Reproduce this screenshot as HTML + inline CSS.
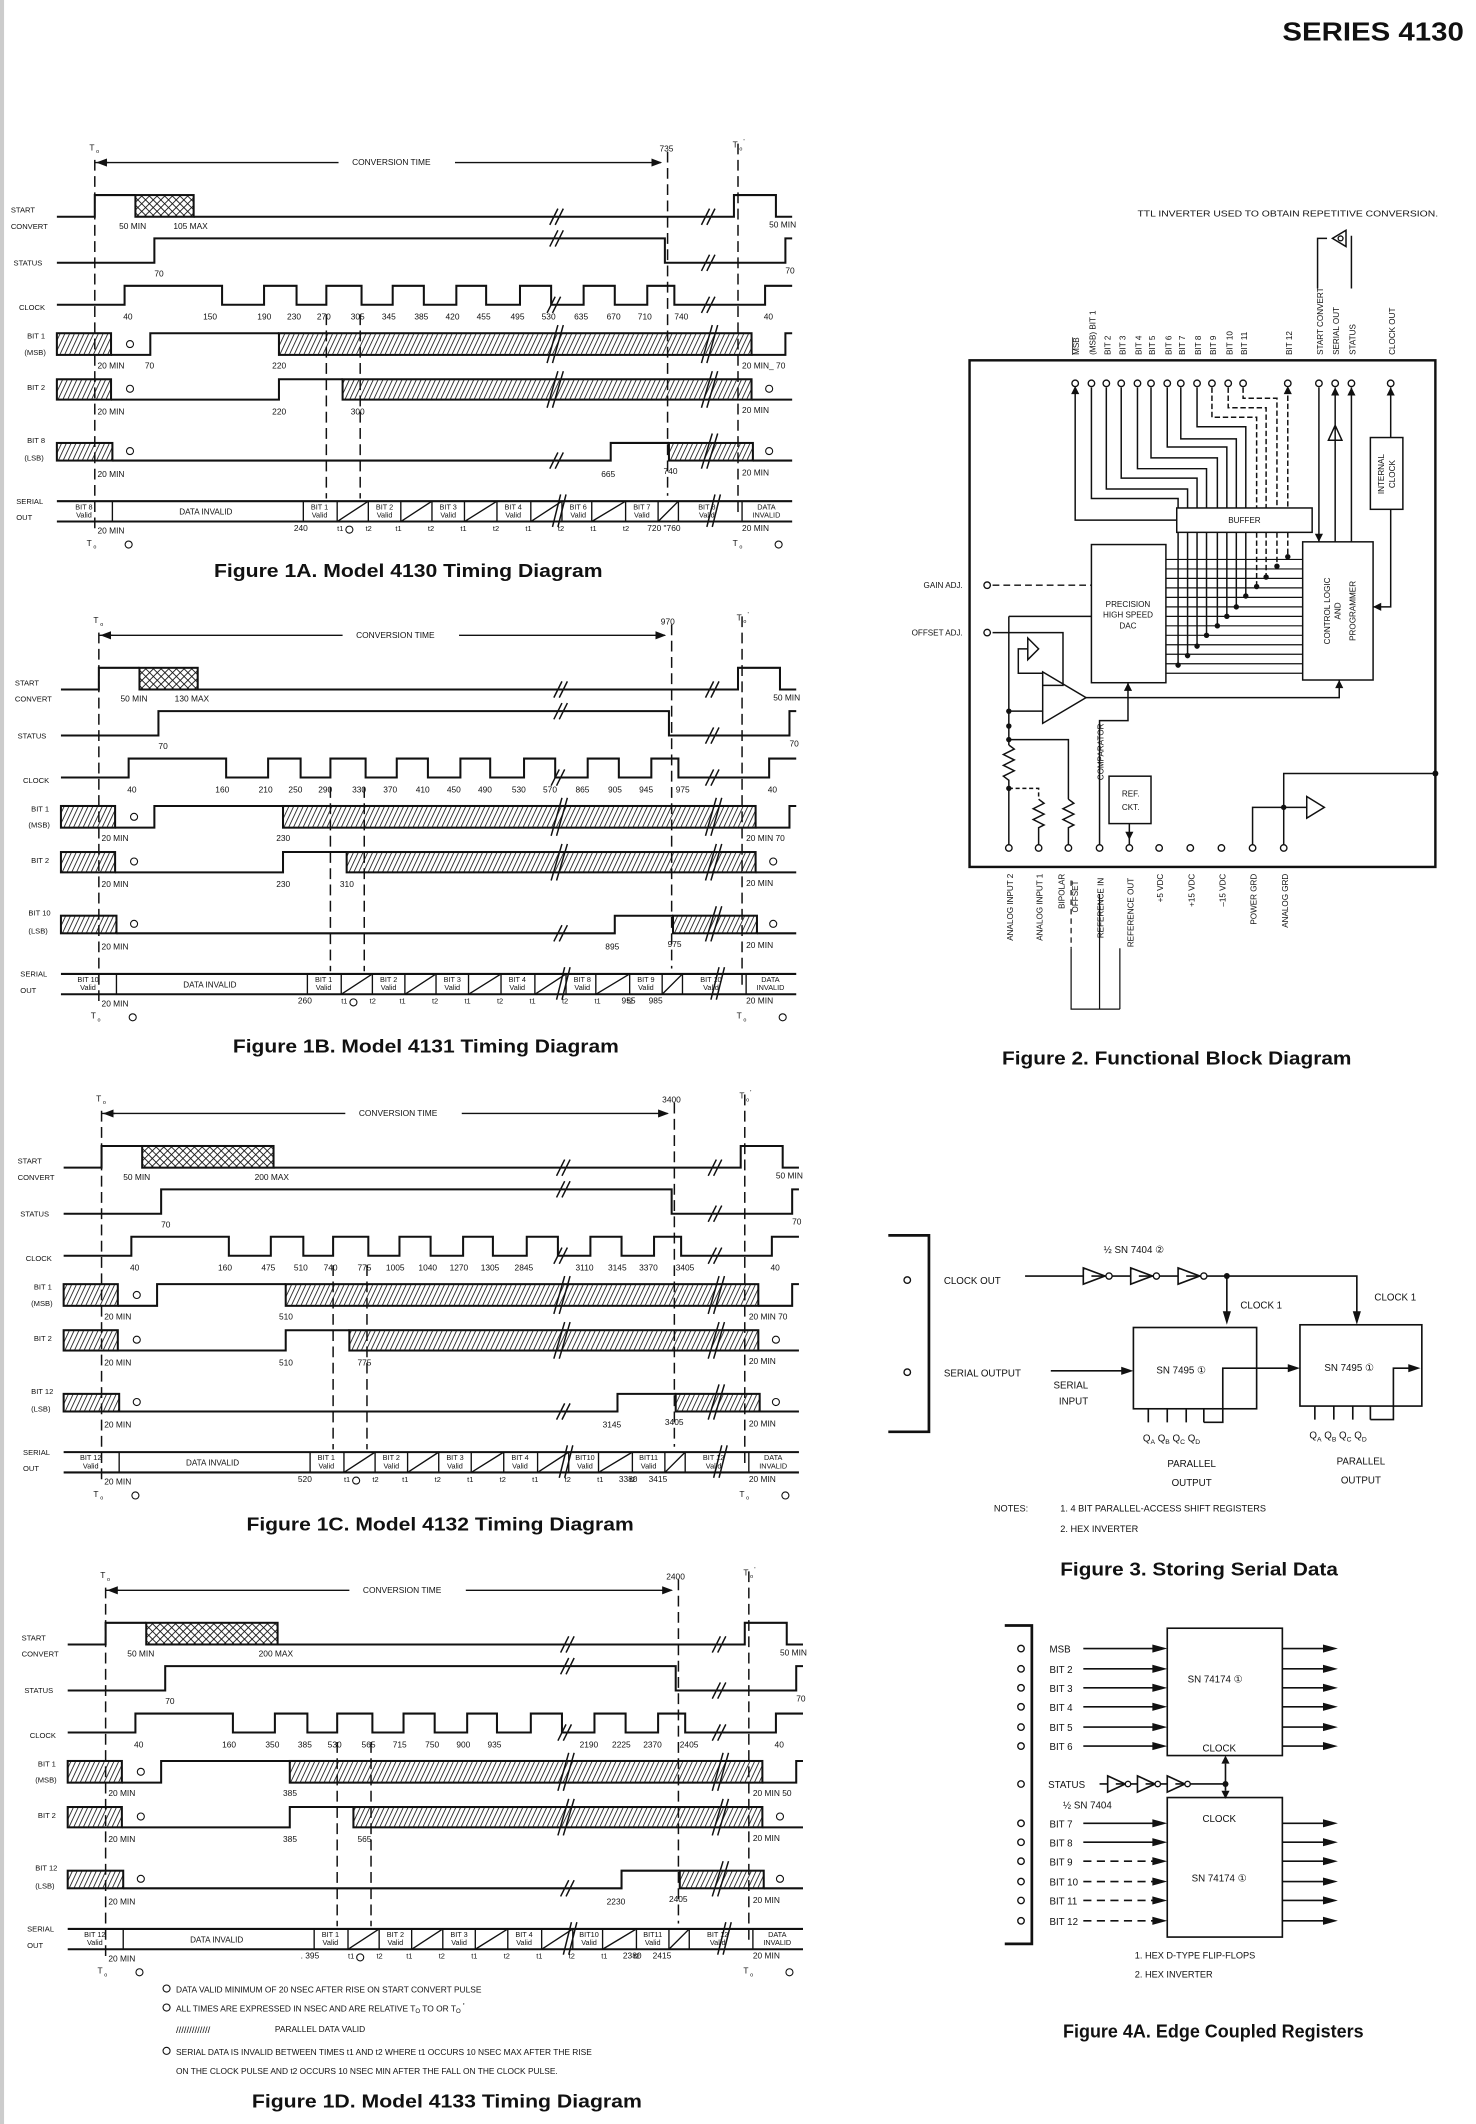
<!DOCTYPE html>
<html><head><meta charset="utf-8"><style>
html,body{margin:0;padding:0;background:#fff;}
svg{display:block;}
text{font-family:"Liberation Sans",sans-serif;fill:#111;}
</style></head><body>
<svg width="1476" height="2124" viewBox="0 0 1090 1568" preserveAspectRatio="none" xmlns="http://www.w3.org/2000/svg">
<defs>
<pattern id="h" width="3.2" height="3.2" patternUnits="userSpaceOnUse" patternTransform="rotate(25)"><rect width="3.2" height="3.2" fill="#fff"/><line x1="0" y1="0" x2="0" y2="3.2" stroke="#111" stroke-width="1.2"/></pattern>
<pattern id="x" width="4" height="4" patternUnits="userSpaceOnUse" patternTransform="rotate(45)"><rect width="4" height="4" fill="#fff"/><line x1="0" y1="0" x2="0" y2="4" stroke="#111" stroke-width="1.3"/><line x1="0" y1="0" x2="4" y2="0" stroke="#111" stroke-width="1.3"/></pattern>
<marker id="ar" markerWidth="8" markerHeight="6" refX="7" refY="3" orient="auto" markerUnits="userSpaceOnUse"><path d="M0,0 L8,3 L0,6 z" fill="#111"/></marker>
<g id="w" fill="none" stroke="#111" stroke-width="1.5">
 <path d="M42 194 H114 V176 H491 V194 H580 V176 H585"/>
 <path d="M42 225 H92 V211 H164 V225 H195 V211 H219 V225 H241 V211 H267 V225 H290 V211 H313 V225 H337 V211 H359 V225 H384 V211 H407 V225 H431 V211 H454 V225 H478 V211 H498 V225 H565 V211 H585"/>
 <rect x="42" y="246" width="40" height="16" fill="url(#h)"/>
 <path d="M82 262 H111 V246 H206"/>
 <rect x="206" y="246" width="349" height="16" fill="url(#h)"/>
 <path d="M555 262 H580 V246 H585"/>
 <rect x="42" y="280" width="40" height="15" fill="url(#h)"/>
 <path d="M82 295 H206 V280 H253"/>
 <rect x="253" y="280" width="302" height="15" fill="url(#h)"/>
 <path d="M555 295 H585"/>
 <rect x="42" y="327" width="41" height="13" fill="url(#h)"/>
 <path d="M83 340 H451 V327 H494"/>
 <rect x="494" y="327" width="62" height="13" fill="url(#h)"/>
 <path d="M556 340 H585"/>
 <path d="M42 370 H585 M42 385 H585"/>
 <path d="M83 370 V385 M224 370 V385 M249 370 V385 M272 370 V385 M296 370 V385 M319 370 V385 M343 370 V385 M367 370 V385 M392 370 V385 M415 370 V385 M437 370 V385 M462 370 V385 M486 370 V385 M501 370 V385 M548 370 V385" stroke-width="1"/>
 <path d="M249 385 L272 370 M296 385 L319 370 M343 385 L367 370 M392 385 L415 370 M437 385 L462 370 M486 385 L501 370" stroke-width="1"/>
 <g stroke-dasharray="8,4" stroke-width="1.1">
  <path d="M70 118 V392"/><path d="M241 232 V368"/><path d="M266 232 V368"/><path d="M493 112 V366"/><path d="M545 106 V382"/>
 </g>
 <g stroke-width="1.1">
  <path d="M406 166 L412 154 M410 166 L416 154"/><path d="M518 166 L524 154 M522 166 L528 154"/>
  <path d="M406 182 L412 170 M410 182 L416 170"/><path d="M518 200 L524 188 M522 200 L528 188"/>
  <path d="M404 231 L410 219 M408 231 L414 219"/><path d="M518 231 L524 219 M522 231 L528 219"/>
  <path d="M404 268 L412 240 M408 268 L416 240"/><path d="M518 268 L526 240 M522 268 L530 240"/>
  <path d="M404 301 L412 274 M408 301 L416 274"/><path d="M518 301 L526 274 M522 301 L530 274"/>
  <path d="M406 346 L412 334 M410 346 L416 334"/><path d="M518 346 L526 320 M522 346 L530 320"/>
  <path d="M408 389 L414 365 M412 389 L418 365"/><path d="M522 389 L528 365 M526 389 L532 365"/>
 </g>
 <path d="M70 120 H488" stroke-width="1" marker-end="url(#ar)"/>
 <path d="M80 120 H72" stroke-width="1" marker-end="url(#ar)"/>
</g>
<g id="rl" font-size="5.6">
 <text x="8" y="157">START</text><text x="8" y="169">CONVERT</text>
 <text x="10" y="196">STATUS</text><text x="14" y="229">CLOCK</text>
 <text x="20" y="250">BIT 1</text><text x="18" y="262">(MSB)</text>
 <text x="20" y="288">BIT 2</text>
 <text x="12" y="384" >OUT</text><text x="12" y="372">SERIAL</text>
</g>
<g id="sl" font-size="6.2">
 <text x="66" y="111">T</text><text x="71" y="113" font-size="4">o</text>
 <text x="541" y="109">T</text><text x="546" y="111" font-size="4">o</text><text x="549" y="106" font-size="5">'</text>
 <rect x="250" y="115" width="86" height="9" fill="#fff"/>
 <text x="260" y="122">CONVERSION TIME</text>
 <text x="114" y="204">70</text><text x="580" y="202">70</text>
 <text x="91" y="236">40</text><text x="564" y="236">40</text>
 <text x="72" y="272">20 MIN</text><text x="72" y="306">20 MIN</text><text x="72" y="352">20 MIN</text>
 <text x="548" y="305">20 MIN</text><text x="548" y="351">20 MIN</text>
 <text x="72" y="394">20 MIN</text><text x="548" y="392">20 MIN</text>
 <text x="64" y="403">T</text><text x="69" y="405" font-size="4">o</text>
 <text x="541" y="403">T</text><text x="546" y="405" font-size="4">o</text>
 <text x="568" y="168">50 MIN</text>
 <circle cx="96" cy="254" r="2.6" fill="none" stroke="#111" stroke-width=".8"/>
 <circle cx="96" cy="287" r="2.6" fill="none" stroke="#111" stroke-width=".8"/>
 <circle cx="96" cy="333" r="2.6" fill="none" stroke="#111" stroke-width=".8"/>
 <circle cx="568" cy="287" r="2.6" fill="none" stroke="#111" stroke-width=".8"/>
 <circle cx="568" cy="333" r="2.6" fill="none" stroke="#111" stroke-width=".8"/>
 <circle cx="95" cy="402" r="2.6" fill="none" stroke="#111" stroke-width=".8"/>
 <circle cx="575" cy="402" r="2.6" fill="none" stroke="#111" stroke-width=".8"/>
 <circle cx="258" cy="391" r="2.6" fill="none" stroke="#111" stroke-width=".8"/>
 <text x="249" y="392" font-size="5.5">t1</text><text x="270" y="392" font-size="5.5">t2</text>
 <text x="292" y="392" font-size="5.5">t1</text><text x="316" y="392" font-size="5.5">t2</text>
 <text x="340" y="392" font-size="5.5">t1</text><text x="364" y="392" font-size="5.5">t2</text>
 <text x="388" y="392" font-size="5.5">t1</text><text x="412" y="392" font-size="5.5">t2</text>
 <text x="436" y="392" font-size="5.5">t1</text><text x="460" y="392" font-size="5.5">t2</text>
 <g font-size="5.4" text-anchor="middle">
 <text x="152" y="380" font-size="6">DATA INVALID</text>
 <text x="236" y="376">BIT 1</text><text x="236" y="382">Valid</text>
 <text x="284" y="376">BIT 2</text><text x="284" y="382">Valid</text>
 <text x="331" y="376">BIT 3</text><text x="331" y="382">Valid</text>
 <text x="379" y="376">BIT 4</text><text x="379" y="382">Valid</text>
 <text x="566" y="376">DATA</text><text x="566" y="382">INVALID</text>
 </g>
</g>
</defs>

<text x="947" y="30" font-size="19" font-weight="bold" textLength="134" lengthAdjust="spacingAndGlyphs">SERIES 4130</text>
<path d="M0 0 V1568" stroke="#ccc" stroke-width="6"/>

<!-- FIG 1A -->
<g>
 <use href="#w"/><use href="#rl"/><use href="#sl"/>
 <path d="M42 160 H70 V144 H100 M143 160 H542 V144 H573 V160 H585" fill="none" stroke="#111" stroke-width="1.5"/>
 <rect x="100" y="144" width="43" height="16" fill="url(#x)" stroke="#111" stroke-width="1.5"/>
 <g font-size="5.6"><text x="20" y="327">BIT 8</text><text x="18" y="340">(LSB)</text></g>
 <g font-size="6.2">
 <text x="88" y="169">50 MIN</text><text x="128" y="169">105 MAX</text>
 <text x="487" y="112">735</text>
 <text x="150" y="236">150</text><text x="190" y="236">190</text><text x="212" y="236">230</text><text x="234" y="236">270</text><text x="259" y="236">305</text><text x="282" y="236">345</text><text x="306" y="236">385</text><text x="329" y="236">420</text><text x="352" y="236">455</text><text x="377" y="236">495</text><text x="400" y="236">530</text><text x="424" y="236">635</text><text x="448" y="236">670</text><text x="471" y="236">710</text><text x="498" y="236">740</text>
 <text x="107" y="272">70</text><text x="201" y="272">220</text><text x="548" y="272">20 MIN_ 70</text>
 <text x="201" y="306">220</text><text x="259" y="306">300</text>
 <text x="444" y="352">665</text><text x="490" y="350">740</text>
 <text x="217" y="392">240</text><text x="478" y="392">720 "760</text>
 </g>
 <g font-size="5.4" text-anchor="middle">
  <text x="62" y="376">BIT 8</text><text x="62" y="382">Valid</text>
  <text x="427" y="376">BIT 6</text><text x="427" y="382">Valid</text>
  <text x="474" y="376">BIT 7</text><text x="474" y="382">Valid</text>
  <text x="522" y="376">BIT 8</text><text x="522" y="382">Valid</text>
 </g>
 <text x="158" y="426" font-size="13.5" font-weight="bold" textLength="287" lengthAdjust="spacingAndGlyphs">Figure 1A. Model 4130 Timing Diagram</text>
</g>

<!-- FIG 1B -->
<g transform="translate(3,349)">
 <use href="#w"/><use href="#rl"/><use href="#sl"/>
 <path d="M42 160 H70 V144 H100 M143 160 H542 V144 H573 V160 H585" fill="none" stroke="#111" stroke-width="1.5"/>
 <rect x="100" y="144" width="43" height="16" fill="url(#x)" stroke="#111" stroke-width="1.5"/>
 <g font-size="5.6"><text x="18" y="327">BIT 10</text><text x="18" y="340">(LSB)</text></g>
 <g font-size="6.2">
 <text x="86" y="169">50 MIN</text><text x="126" y="169">130 MAX</text>
 <text x="485" y="112">970</text>
 <text x="156" y="236">160</text><text x="188" y="236">210</text><text x="210" y="236">250</text><text x="232" y="236">290</text><text x="257" y="236">330</text><text x="280" y="236">370</text><text x="304" y="236">410</text><text x="327" y="236">450</text><text x="350" y="236">490</text><text x="375" y="236">530</text><text x="398" y="236">570</text><text x="422" y="236">865</text><text x="446" y="236">905</text><text x="469" y="236">945</text><text x="496" y="236">975</text>
 <text x="201" y="272">230</text><text x="548" y="272">20 MIN  70</text>
 <text x="201" y="306">230</text><text x="248" y="306">310</text>
 <text x="444" y="352">895</text><text x="490" y="350">975</text>
 <text x="217" y="392">260</text><text x="456" y="392">955</text><text x="476" y="392">985</text>
 </g>
 <g font-size="5.4" text-anchor="middle">
  <text x="62" y="376">BIT 10</text><text x="62" y="382">Valid</text>
  <text x="427" y="376">BIT 8</text><text x="427" y="382">Valid</text>
  <text x="474" y="376">BIT 9</text><text x="474" y="382">Valid</text>
  <text x="522" y="376">BIT 10</text><text x="522" y="382">Valid</text>
 </g>
 <text x="169" y="428" font-size="13.5" font-weight="bold" textLength="285" lengthAdjust="spacingAndGlyphs">Figure 1B. Model 4131 Timing Diagram</text>
</g>

<!-- FIG 1C -->
<g transform="translate(5,702)">
 <use href="#w"/><use href="#rl"/><use href="#sl"/>
 <path d="M42 160 H70 V144 H100 M197 160 H542 V144 H573 V160 H585" fill="none" stroke="#111" stroke-width="1.5"/>
 <rect x="100" y="144" width="97" height="16" fill="url(#x)" stroke="#111" stroke-width="1.5"/>
 <g font-size="5.6"><text x="18" y="327">BIT 12</text><text x="18" y="340">(LSB)</text></g>
 <g font-size="6.2">
 <text x="86" y="169">50 MIN</text><text x="183" y="169">200 MAX</text>
 <text x="484" y="112">3400</text>
 <text x="156" y="236">160</text><text x="188" y="236">475</text><text x="212" y="236">510</text><text x="234" y="236">740</text><text x="259" y="236">775</text><text x="280" y="236">1005</text><text x="304" y="236">1040</text><text x="327" y="236">1270</text><text x="350" y="236">1305</text><text x="375" y="236">2845</text><text x="420" y="236">3110</text><text x="444" y="236">3145</text><text x="467" y="236">3370</text><text x="494" y="236">3405</text>
 <text x="201" y="272">510</text><text x="548" y="272">20 MIN  70</text>
 <text x="201" y="306">510</text><text x="259" y="306">775</text>
 <text x="440" y="352">3145</text><text x="486" y="350">3405</text>
 <text x="215" y="392">520</text><text x="452" y="392">3380</text><text x="474" y="392">3415</text>
 </g>
 <g font-size="5.4" text-anchor="middle">
  <text x="62" y="376">BIT 12</text><text x="62" y="382">Valid</text>
  <text x="427" y="376">BIT10</text><text x="427" y="382">Valid</text>
  <text x="474" y="376">BIT11</text><text x="474" y="382">Valid</text>
  <text x="522" y="376">BIT 12</text><text x="522" y="382">Valid</text>
 </g>
 <text x="177" y="428" font-size="13.5" font-weight="bold" textLength="286" lengthAdjust="spacingAndGlyphs">Figure 1C. Model 4132 Timing Diagram</text>
</g>

<!-- FIG 1D -->
<g transform="translate(8,1054)">
 <use href="#w"/><use href="#rl"/><use href="#sl"/>
 <path d="M42 160 H70 V144 H100 M197 160 H542 V144 H573 V160 H585" fill="none" stroke="#111" stroke-width="1.5"/>
 <rect x="100" y="144" width="97" height="16" fill="url(#x)" stroke="#111" stroke-width="1.5"/>
 <g font-size="5.6"><text x="18" y="327">BIT 12</text><text x="18" y="340">(LSB)</text></g>
 <g font-size="6.2">
 <text x="86" y="169">50 MIN</text><text x="183" y="169">200 MAX</text>
 <text x="484" y="112">2400</text>
 <text x="156" y="236">160</text><text x="188" y="236">350</text><text x="212" y="236">385</text><text x="234" y="236">530</text><text x="259" y="236">565</text><text x="282" y="236">715</text><text x="306" y="236">750</text><text x="329" y="236">900</text><text x="352" y="236">935</text><text x="420" y="236">2190</text><text x="444" y="236">2225</text><text x="467" y="236">2370</text><text x="494" y="236">2405</text>
 <text x="201" y="272">385</text><text x="548" y="272">20 MIN  50</text>
 <text x="201" y="306">385</text><text x="256" y="306">565</text>
 <text x="440" y="352">2230</text><text x="486" y="350">2405</text>
 <text x="214" y="392">. 395</text><text x="452" y="392">2380</text><text x="474" y="392">2415</text>
 </g>
 <g font-size="5.4" text-anchor="middle">
  <text x="62" y="376">BIT 12</text><text x="62" y="382">Valid</text>
  <text x="427" y="376">BIT10</text><text x="427" y="382">Valid</text>
  <text x="474" y="376">BIT11</text><text x="474" y="382">Valid</text>
  <text x="522" y="376">BIT 12</text><text x="522" y="382">Valid</text>
 </g>
</g>
<g font-size="6.2">
 <circle cx="123" cy="1468" r="2.6" fill="none" stroke="#111" stroke-width=".8"/><text x="130" y="1471">DATA VALID MINIMUM OF 20 NSEC AFTER RISE ON START CONVERT PULSE</text>
 <circle cx="123" cy="1482" r="2.6" fill="none" stroke="#111" stroke-width=".8"/><text x="130" y="1485">ALL TIMES ARE EXPRESSED IN   NSEC   AND ARE RELATIVE T<tspan font-size="4.5" dy="1">O</tspan><tspan dy="-1"> TO OR T</tspan><tspan font-size="4.5" dy="1">O</tspan><tspan dy="-3"> '</tspan></text>
 <text x="130" y="1501" font-size="7">/////////////</text><text x="203" y="1500">PARALLEL DATA VALID</text>
 <circle cx="123" cy="1514" r="2.6" fill="none" stroke="#111" stroke-width=".8"/><text x="130" y="1517">SERIAL DATA IS INVALID BETWEEN TIMES t1 AND t2 WHERE t1 OCCURS 10 NSEC MAX AFTER THE RISE</text>
 <text x="130" y="1531">ON THE CLOCK PULSE AND t2  OCCURS 10 NSEC MIN AFTER THE FALL ON THE CLOCK PULSE.</text>
</g>
<text x="186" y="1556" font-size="13.5" font-weight="bold" textLength="288" lengthAdjust="spacingAndGlyphs">Figure 1D. Model 4133 Timing Diagram</text>

<!-- FIG 2 -->
<g fill="none" stroke="#111" stroke-width="1.1">
 <rect x="716" y="266" width="344" height="374" stroke-width="1.8"/>
 <rect x="869" y="375" width="100" height="18"/>
 <rect x="806" y="402" width="55" height="102"/>
 <rect x="962" y="400" width="52" height="102"/>
 <rect x="1012" y="323" width="24" height="53"/>
 <rect x="819" y="573" width="31" height="35"/>
 <path d="M770 496 L802 515 L770 534 Z"/>
 <path d="M759 471 L767 479 L759 487 Z M759 479 H752 V497 H770"/>
 <path d="M794 286 V384 H869"/>
 <path d="M806 286 V368 H870 V375 M817 286 V361 H877 V375 M828 286 V353 H884 V375 M840 286 V346 H891 V375 M850 286 V338 H899 V375 M862 286 V330 H906 V375 M872 286 V324 H913 V375 M884 286 V315 H920 V375"/>
 <path d="M895 286 V308 H928 V375 M907 286 V301 H935 V375 M918 286 V294 H943 V375 M951 286 V375" stroke-dasharray="4,2"/>
 <path d="M870 393 V491 M877 393 V484 M884 393 V477 M891 393 V469 M899 393 V462 M906 393 V455 M913 393 V448 M920 393 V440"/>
 <path d="M928 393 V433 M935 393 V426 M943 393 V418 M951 393 V411" stroke-dasharray="4,2"/>
 <path d="M861 413 H962 M861 420 H962 M861 427 H962 M861 434 H962 M861 441 H962 M861 448 H962 M861 455 H962 M861 462 H962 M861 469 H962 M861 476 H962 M861 483 H962 M861 490 H962 M861 497 H962" stroke-width=".9"/>
 <path d="M974 286 V400 M986 286 V325 M981 325 L986 314 L991 325 Z M986 325 V400 M998 286 V400 M1027 286 V323 M1027 376 V448 H1014"/>
 <path d="M973 213 V176 H980 M998 213 V174"/>
 <path d="M994 170 L984 176 L994 182 Z"/>
 <path d="M745 455 H806 M745 455 V550 M745 550 l4 3 -8 4 8 4 -8 4 8 4 -8 4 4 3 V626 M745 525 H770 M745 546 H789 V590 M789 590 l4 3 -8 4 8 4 -8 4 8 4 -4 2 V626"/>
 <path d="M745 582 H767 V590" stroke-dasharray="3,2"/>
 <path d="M767 590 l4 3 -8 4 8 4 -8 4 8 4 -4 2 V626"/>
 <path d="M733 432 H806" stroke-dasharray="5,3"/>
 <path d="M733 467 H785 V506 H770"/>
 <path d="M802 515 H989 V502"/>
 <path d="M812 626 V532 H833 V504 M834 608 V626"/>
 <path d="M948 626 V571 H1060 M925 626 V596 H965 M965 588 L978 596 L965 604 Z"/>
 <path d="M791 700 V745 H827 M812 660 V745 M827 700 V745" stroke-width=".9"/>
 <path d="M791 650 V700" stroke-dasharray="4,3" stroke-width=".9"/>
</g>
<g fill="#fff" stroke="#111" stroke-width="1">
 <circle cx="794" cy="283" r="2.4"/><circle cx="806" cy="283" r="2.4"/><circle cx="817" cy="283" r="2.4"/><circle cx="828" cy="283" r="2.4"/><circle cx="840" cy="283" r="2.4"/><circle cx="850" cy="283" r="2.4"/><circle cx="862" cy="283" r="2.4"/><circle cx="872" cy="283" r="2.4"/><circle cx="884" cy="283" r="2.4"/><circle cx="895" cy="283" r="2.4"/><circle cx="907" cy="283" r="2.4"/><circle cx="918" cy="283" r="2.4"/><circle cx="951" cy="283" r="2.4"/><circle cx="974" cy="283" r="2.4"/><circle cx="986" cy="283" r="2.4"/><circle cx="998" cy="283" r="2.4"/><circle cx="1027" cy="283" r="2.4"/>
 <circle cx="745" cy="626" r="2.4"/><circle cx="767" cy="626" r="2.4"/><circle cx="789" cy="626" r="2.4"/><circle cx="812" cy="626" r="2.4"/><circle cx="834" cy="626" r="2.4"/><circle cx="856" cy="626" r="2.4"/><circle cx="879" cy="626" r="2.4"/><circle cx="902" cy="626" r="2.4"/><circle cx="925" cy="626" r="2.4"/><circle cx="948" cy="626" r="2.4"/>
 <circle cx="729" cy="432" r="2.4"/><circle cx="729" cy="467" r="2.4"/>
 <circle cx="990" cy="176" r="1.8"/>
</g>
<g fill="#111">
 <circle cx="870" cy="491" r="2"/><circle cx="877" cy="484" r="2"/><circle cx="884" cy="477" r="2"/><circle cx="891" cy="469" r="2"/><circle cx="899" cy="462" r="2"/><circle cx="906" cy="455" r="2"/><circle cx="913" cy="448" r="2"/><circle cx="920" cy="440" r="2"/><circle cx="928" cy="433" r="2"/><circle cx="935" cy="426" r="2"/><circle cx="943" cy="418" r="2"/><circle cx="951" cy="411" r="2"/>
 <circle cx="745" cy="525" r="2"/><circle cx="745" cy="536" r="2"/><circle cx="745" cy="546" r="2"/><circle cx="745" cy="582" r="2"/><circle cx="948" cy="596" r="2"/><circle cx="1060" cy="571" r="2.2"/>
 <path d="M791 291 l3 -6 3 6z M971 394 l3 6 3 -6z M983 292 l3 -6 3 6z M995 292 l3 -6 3 6z M1024 292 l3 -6 3 6z M1014 448 l6 -3 v6z M986 508 l3 -6 3 6z M830 510 l3 -6 3 6z M831 614 l3 6 3 -6z M948 291 l3 -6 3 6z"/>
</g>
<g font-size="6" >
 <text x="840" y="160" font-size="6.2" textLength="222" lengthAdjust="spacingAndGlyphs">TTL INVERTER USED TO OBTAIN REPETITIVE CONVERSION.</text>
 <text x="919" y="386" text-anchor="middle">BUFFER</text>
 <text x="833" y="448" text-anchor="middle">PRECISION</text><text x="833" y="456" text-anchor="middle">HIGH SPEED</text><text x="833" y="464" text-anchor="middle">DAC</text>
 <text x="835" y="588" text-anchor="middle">REF.</text><text x="835" y="598" text-anchor="middle">CKT.</text>
 <text x="711" y="434" text-anchor="end">GAIN ADJ.</text><text x="711" y="469" text-anchor="end">OFFSET ADJ.</text>
 <g text-anchor="middle">
  <text transform="translate(982,451) rotate(-90)">CONTROL LOGIC</text>
  <text transform="translate(990,451) rotate(-90)">AND</text>
  <text transform="translate(1001,451) rotate(-90)">PROGRAMMER</text>
  <text transform="translate(1022,350) rotate(-90)">INTERNAL</text>
  <text transform="translate(1030,350) rotate(-90)">CLOCK</text>
 </g>
 <text transform="translate(815,576) rotate(-90)">COMPARATOR</text>
 <g>
  <text transform="translate(797,262) rotate(-90)" text-decoration="overline">MSB</text>
  <text transform="translate(809,262) rotate(-90)">(MSB) BIT 1</text>
  <text transform="translate(820,262) rotate(-90)">BIT 2</text>
  <text transform="translate(831,262) rotate(-90)">BIT 3</text>
  <text transform="translate(843,262) rotate(-90)">BIT 4</text>
  <text transform="translate(853,262) rotate(-90)">BIT 5</text>
  <text transform="translate(865,262) rotate(-90)">BIT 6</text>
  <text transform="translate(875,262) rotate(-90)">BIT 7</text>
  <text transform="translate(887,262) rotate(-90)">BIT 8</text>
  <text transform="translate(898,262) rotate(-90)">BIT 9</text>
  <text transform="translate(910,262) rotate(-90)">BIT 10</text>
  <text transform="translate(921,262) rotate(-90)">BIT 11</text>
  <text transform="translate(954,262) rotate(-90)">BIT 12</text>
  <text transform="translate(977,262) rotate(-90)">START CONVERT</text>
  <text transform="translate(989,262) rotate(-90)">SERIAL OUT</text>
  <text transform="translate(1001,262) rotate(-90)">STATUS</text>
  <text transform="translate(1030,262) rotate(-90)">CLOCK OUT</text>
 </g>
 <g text-anchor="end">
  <text transform="translate(748,645) rotate(-90)">ANALOG INPUT 2</text>
  <text transform="translate(770,645) rotate(-90)">ANALOG INPUT 1</text>
  <text transform="translate(786,645) rotate(-90)">BIPOLAR</text>
  <text transform="translate(796,650) rotate(-90)">OFFSET</text>
  <text transform="translate(815,648) rotate(-90)">REFERENCE IN</text>
  <text transform="translate(837,648) rotate(-90)">REFERENCE OUT</text>
  <text transform="translate(859,645) rotate(-90)">+5 VDC</text>
  <text transform="translate(882,645) rotate(-90)">+15 VDC</text>
  <text transform="translate(905,645) rotate(-90)">–15 VDC</text>
  <text transform="translate(928,645) rotate(-90)">POWER GRD</text>
  <text transform="translate(951,645) rotate(-90)">ANALOG GRD</text>
 </g>
</g>
<text x="740" y="786" font-size="13.5" font-weight="bold" textLength="258" lengthAdjust="spacingAndGlyphs">Figure 2. Functional Block Diagram</text>

<!-- FIG 3 -->
<g fill="none" stroke="#111" stroke-width="1.2">
 <path d="M656 912 H686 V1057 H656" stroke-width="2"/>
 <path d="M757 942 H800 M806 942 H835 M841 942 H870 M876 942 H1002 V970" />
 <path d="M800 936 L816 942 L800 948 Z M835 936 L851 942 L835 948 Z M870 936 L886 942 L870 948 Z"/>
 <path d="M906 942 V970 M776 1012 H832"/>
 <rect x="837" y="980" width="91" height="60"/>
 <rect x="960" y="978" width="90" height="60"/>
 <path d="M848 1040 V1050 M862 1040 V1050 M876 1040 V1050 M889 1040 V1050 M889 1050 H903 V1010 H955"/>
 <path d="M971 1038 V1048 M985 1038 V1048 M999 1038 V1048 M1012 1038 V1048 M1012 1048 H1029 V1010 H1045"/>
</g>
<g fill="#fff" stroke="#111" stroke-width="1"><circle cx="670" cy="945" r="2.4"/><circle cx="670" cy="1013" r="2.4"/><circle cx="819" cy="942" r="2.3"/><circle cx="854" cy="942" r="2.3"/><circle cx="889" cy="942" r="2.3"/></g>
<g fill="#111"><circle cx="906" cy="942" r="2.2"/><path d="M903 968 l3 10 3 -10z M999 968 l3 10 3 -10z M828 1009 l9 3 -9 3z M951 1007 l9 3 -9 3z M1040 1007 l9 3 -9 3z"/></g>
<g font-size="7.2">
 <text x="697" y="948">CLOCK OUT</text><text x="697" y="1016">SERIAL OUTPUT</text>
 <text x="778" y="1025">SERIAL</text><text x="782" y="1037">INPUT</text>
 <text x="815" y="925">½ SN 7404 ②</text>
 <text x="916" y="966">CLOCK 1</text><text x="1015" y="960">CLOCK 1</text>
 <text x="854" y="1014">SN 7495 ①</text><text x="978" y="1012">SN 7495 ①</text>
 <text x="844" y="1064">Q<tspan font-size="5" dy="2">A</tspan><tspan dy="-2"> Q</tspan><tspan font-size="5" dy="2">B</tspan><tspan dy="-2"> Q</tspan><tspan font-size="5" dy="2">C</tspan><tspan dy="-2"> Q</tspan><tspan font-size="5" dy="2">D</tspan></text>
 <text x="967" y="1062">Q<tspan font-size="5" dy="2">A</tspan><tspan dy="-2"> Q</tspan><tspan font-size="5" dy="2">B</tspan><tspan dy="-2"> Q</tspan><tspan font-size="5" dy="2">C</tspan><tspan dy="-2"> Q</tspan><tspan font-size="5" dy="2">D</tspan></text>
 <text x="880" y="1083" text-anchor="middle">PARALLEL</text><text x="880" y="1097" text-anchor="middle">OUTPUT</text>
 <text x="1005" y="1081" text-anchor="middle">PARALLEL</text><text x="1005" y="1095" text-anchor="middle">OUTPUT</text>
 <text x="734" y="1116" font-size="6.8">NOTES:</text>
 <text x="783" y="1116" font-size="6.8">1.  4 BIT PARALLEL-ACCESS SHIFT REGISTERS</text>
 <text x="783" y="1131" font-size="6.8">2.  HEX INVERTER</text>
</g>
<text x="783" y="1163" font-size="13.5" font-weight="bold" textLength="205" lengthAdjust="spacingAndGlyphs">Figure 3. Storing Serial Data</text>

<!-- FIG 4A -->
<g fill="none" stroke="#111" stroke-width="1.2">
 <path d="M742 1200 H762 V1435 H742" stroke-width="2"/>
 <rect x="862" y="1202" width="85" height="94"/>
 <rect x="862" y="1327" width="85" height="103"/>
 <path d="M800 1217 H856 M800 1232 H856 M800 1246 H856 M800 1260 H856 M800 1275 H856 M800 1289 H856 M800 1346 H856 M800 1360 H856"/>
 <path d="M800 1374 H856 M800 1389 H856 M800 1403 H856 M800 1418 H856" stroke-dasharray="6,4"/>
 <path d="M947 1217 H982 M947 1232 H982 M947 1246 H982 M947 1260 H982 M947 1275 H982 M947 1289 H982 M947 1346 H982 M947 1360 H982 M947 1374 H982 M947 1389 H982 M947 1403 H982 M947 1418 H982"/>
 <path d="M812 1317 H818 M824 1317 H840 M846 1317 H862 M868 1317 H905 V1302 M905 1317 V1322"/>
 <path d="M818 1311 L831 1317 L818 1323 Z M840 1311 L853 1317 L840 1323 Z M862 1311 L875 1317 L862 1323 Z"/>
</g>
<g fill="#fff" stroke="#111" stroke-width="1">
 <circle cx="754" cy="1217" r="2.4"/><circle cx="754" cy="1232" r="2.4"/><circle cx="754" cy="1246" r="2.4"/><circle cx="754" cy="1260" r="2.4"/><circle cx="754" cy="1275" r="2.4"/><circle cx="754" cy="1289" r="2.4"/><circle cx="754" cy="1317" r="2.4"/><circle cx="754" cy="1346" r="2.4"/><circle cx="754" cy="1360" r="2.4"/><circle cx="754" cy="1374" r="2.4"/><circle cx="754" cy="1389" r="2.4"/><circle cx="754" cy="1403" r="2.4"/><circle cx="754" cy="1418" r="2.4"/>
 <circle cx="833" cy="1317" r="2"/><circle cx="855" cy="1317" r="2"/><circle cx="877" cy="1317" r="2"/>
</g>
<g fill="#111">
 <circle cx="905" cy="1317" r="2.2"/>
 <path d="M902 1302 l3 -6 3 6z M902 1322 l3 6 3 -6z"/>
 <path d="M851 1214 l11 3 -11 3z M851 1229 l11 3 -11 3z M851 1243 l11 3 -11 3z M851 1257 l11 3 -11 3z M851 1272 l11 3 -11 3z M851 1286 l11 3 -11 3z M851 1343 l11 3 -11 3z M851 1357 l11 3 -11 3z M851 1371 l11 3 -11 3z M851 1386 l11 3 -11 3z M851 1400 l11 3 -11 3z M851 1415 l11 3 -11 3z"/>
 <path d="M977 1214 l11 3 -11 3z M977 1229 l11 3 -11 3z M977 1243 l11 3 -11 3z M977 1257 l11 3 -11 3z M977 1272 l11 3 -11 3z M977 1286 l11 3 -11 3z M977 1343 l11 3 -11 3z M977 1357 l11 3 -11 3z M977 1371 l11 3 -11 3z M977 1386 l11 3 -11 3z M977 1400 l11 3 -11 3z M977 1415 l11 3 -11 3z"/>
</g>
<g font-size="7.2">
 <text x="775" y="1220">MSB</text><text x="775" y="1235">BIT 2</text><text x="775" y="1249">BIT 3</text><text x="775" y="1263">BIT 4</text><text x="775" y="1278">BIT 5</text><text x="775" y="1292">BIT 6</text>
 <text x="774" y="1320">STATUS</text>
 <text x="775" y="1349">BIT 7</text><text x="775" y="1363">BIT 8</text><text x="775" y="1377">BIT 9</text><text x="775" y="1392">BIT 10</text><text x="775" y="1406">BIT 11</text><text x="775" y="1421">BIT 12</text>
 <text x="877" y="1242">SN 74174 ①</text><text x="880" y="1389">SN 74174 ①</text>
 <text x="888" y="1293">CLOCK</text><text x="888" y="1345">CLOCK</text>
 <text x="785" y="1335">½ SN 7404</text>
 <text x="838" y="1446" font-size="6.8">1.  HEX D-TYPE FLIP-FLOPS</text>
 <text x="838" y="1460" font-size="6.8">2.  HEX INVERTER</text>
</g>
<text x="785" y="1504" font-size="13.5" font-weight="bold" textLength="222" lengthAdjust="spacingAndGlyphs">Figure 4A. Edge Coupled Registers</text>
</svg>
</body></html>
